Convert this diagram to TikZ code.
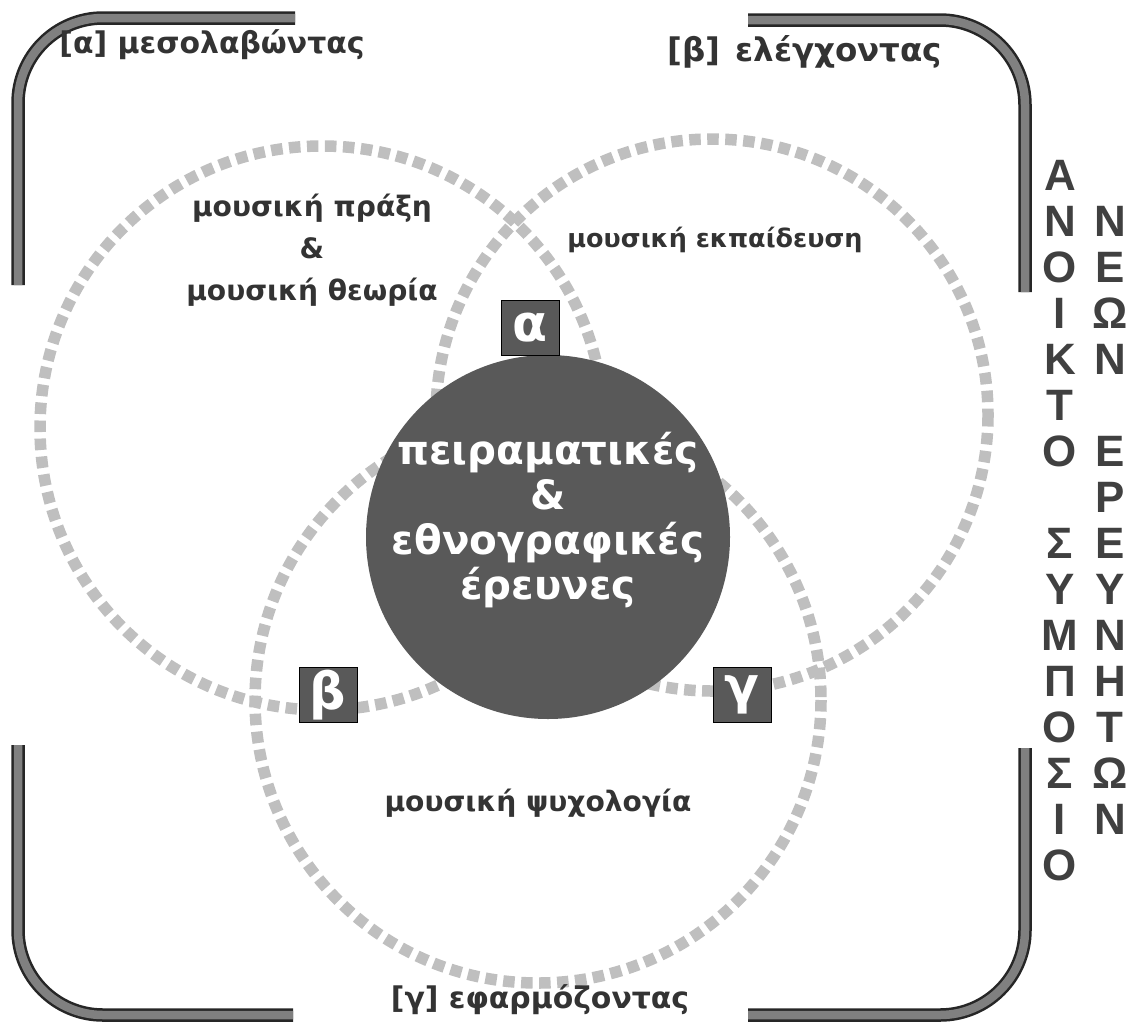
\documentclass[tikz,border=0pt]{standalone}
\usepackage{fontspec}
\setmainfont{DejaVu Sans}
\newfontfamily\capsfont{Liberation Sans}
\usetikzlibrary{positioning}

\begin{document}
\begin{tikzpicture}[x=0.2mm, y=-0.2mm,
  ring/.style={draw=gray!50, line width=2.3mm, dash pattern=on 2.3mm off 1.3mm},
  frameout/.style={draw=black!85, line width=2.7mm, rounded corners=17mm},
  framein/.style={draw=black!50, line width=1.7mm, rounded corners=17mm},
  label/.style={font=\bfseries\fontsize{17}{20}\selectfont, text=black!80},
  field/.style={font=\bfseries\fontsize{16}{24}\selectfont, text=black!80, align=center},
  core/.style={font=\bfseries\fontsize{23}{25.6}\selectfont, text=white, align=center},
  tag/.style={fill=black!65, draw=black, minimum width=11.6mm, minimum height=11mm,
    inner sep=0pt, text=white, font=\bfseries\fontsize{29}{29}\selectfont},
  letter/.style={font=\capsfont\bfseries\fontsize{25}{25}\selectfont, text=gray!50!black}]
  \useasboundingbox (0,0) rectangle (1129,1026);

  % corner brackets
  \foreach \st in {frameout, framein} {
    \draw[\st] (295,18) -- (18,18) -- (18,285);
    \draw[\st] (748,20) -- (1025,20) -- (1025,292);
    \draw[\st] (18,745) -- (18,1015) -- (293,1015);
    \draw[\st] (1025,748) -- (1025,1015) -- (748,1015);
  }

  % the three fields
  \draw[ring] (322,428) circle (282);
  \draw[ring] (712,415) circle (276);
  \draw[ring] (538,700) circle (283);

  % centre
  \fill[black!65] (548,537) circle (182);
  \node[core] (core) at (548,520) {πειραματικές\\\&\\εθνογραφικές\\έρευνες};

  \node[tag] (ta) at (530,328) {α};
  \node[tag] (tb) at (328,695) {β};
  \node[tag] (tc) at (742,695) {γ};

  \node[field] (fa) at (312,250) {μουσική πράξη\\\&\\μουσική θεωρία};
  \node[field, font=\bfseries\fontsize{14.5}{18}\selectfont] (fb) at (715,240) {μουσική εκπαίδευση};
  \node[field] (fc) at (538,803) {μουσική ψυχολογία};

  \node[label] (la) at (212,45) {[α] μεσολαβώντας};
  \node[label, font=\bfseries\fontsize{18.5}{20}\selectfont] (lb) at (805,52) {[β]\hspace{0.45em}ελέγχοντας};
  \node[label] (lc) at (540,1000) {[γ] εφαρμόζοντας};

  % vertical titles
  \foreach \ch [count=\i from 0] in {Α,Ν,Ο,Ι,Κ,Τ,Ο,{},Σ,Υ,Μ,Π,Ο,Σ,Ι,Ο}
    \node[letter] (sa\i) at (1060,175+46*\i) {\ch};
  \foreach \ch [count=\i from 1] in {Ν,Ε,Ω,Ν,{},Ε,Ρ,Ε,Υ,Ν,Η,Τ,Ω,Ν}
    \node[letter] (sb\i) at (1110,175+46*\i) {\ch};
\end{tikzpicture}
\end{document}
